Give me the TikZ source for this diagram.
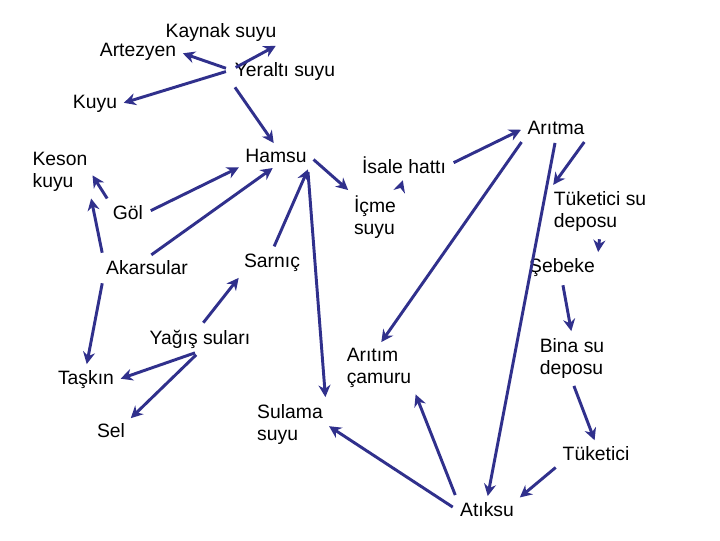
\documentclass[tikz,border=0pt]{standalone}
\usepackage{fontspec}
\setmainfont{Liberation Sans}
\usetikzlibrary{arrows.meta}
\definecolor{arr}{RGB}{48,48,140}
\begin{document}
\begin{tikzpicture}[x=0.75pt,y=-0.75pt,
  lbl/.style={font=\fontsize{14.5}{16.5}\selectfont,inner sep=2pt,align=left},
  con/.style={draw=arr,line width=2.2pt,-{Stealth[length=9pt,width=9pt]},shorten >=3pt,shorten <=4pt}]
\useasboundingbox[fill=white] (0,0) rectangle (720,540);
\node[lbl] (kay) at (221,32) {Kaynak suyu};
\node[lbl] (art) at (138,52) {Artezyen};
\node[lbl] (yer) at (285,71) {Yeraltı suyu};
\node[lbl] (kuy) at (95,104) {Kuyu};
\node[lbl] (ari) at (556,128) {Arıtma};
\node[lbl] (ham) at (276,156) {Hamsu};
\node[lbl] (kes) at (60,172) {Keson\\kuyu};
\node[lbl] (isa) at (404,165) {İsale hattı};
\node[lbl] (gol) at (128,213) {Göl};
\node[lbl] (icm) at (375,217) {İçme\\suyu};
\node[lbl] (tsd) at (600,211) {Tüketici su\\deposu};
\node[lbl] (aka) at (147,268) {Akarsular};
\node[lbl] (sar) at (272,263) {Sarnıç};
\node[lbl] (seb) at (562,268) {Şebeke};
\node[lbl] (yag) at (200,339) {Yağış suları};
\node[lbl] (cam) at (379,368) {Arıtım\\çamuru};
\node[lbl] (bin) at (572,358) {Bina su\\deposu};
\node[lbl] (tas) at (86,380) {Taşkın};
\node[lbl] (sel) at (111,431) {Sel};
\node[lbl] (sul) at (290,424) {Sulama\\suyu};
\node[lbl] (tuk) at (596,454) {Tüketici};
\node[lbl] (atk) at (487,510) {Atıksu};
\coordinate (yj) at (231,70);
\coordinate (hs) at (308,172);
\draw[con] (yj) -- (kay.south east);
\draw[con] (yj) -- (art.east);
\draw[con] (yj) -- (kuy.east);
\draw[con] (yer.south west) -- (ham.north);
\draw[con] (gol.east) -- (ham.south west);
\draw[con] (gol.north west) -- (kes.east);
\draw[con] (aka.north) -- (ham.south);
\draw[con] (aka.north west) -- (kes.south east);
\draw[con] (sar.north) -- (ham.south east);
\draw[con,shorten <=0pt] (hs) -- (sul.north east);
\draw[con] (ham.east) -- (icm.north west);
\draw[con] (icm.north east) -- (isa.south);
\draw[con] (isa.east) -- (ari.west);
\draw[con] (ari.south west) -- (cam.north);
\draw[con] (ari.south) -- (atk.north);
\draw[con] (ari.south east) -- (tsd.north west);
\draw[con] (tsd.south) -- (seb.north east);
\draw[con] (seb.south) -- (bin.north);
\draw[con] (bin.south) -- (tuk.north);
\draw[con] (tuk.south west) -- (atk.north east);
\draw[con] (atk.north west) -- (cam.south east);
\draw[con] (atk.west) -- (sul.east);
\draw[con] (aka.south west) -- (tas.north);
\draw[con] (yag.north) -- (sar.south west);
\draw[con] (yag.south) -- (tas.east);
\draw[con] (yag.south) -- (sel.north east);
\end{tikzpicture}
\end{document}
